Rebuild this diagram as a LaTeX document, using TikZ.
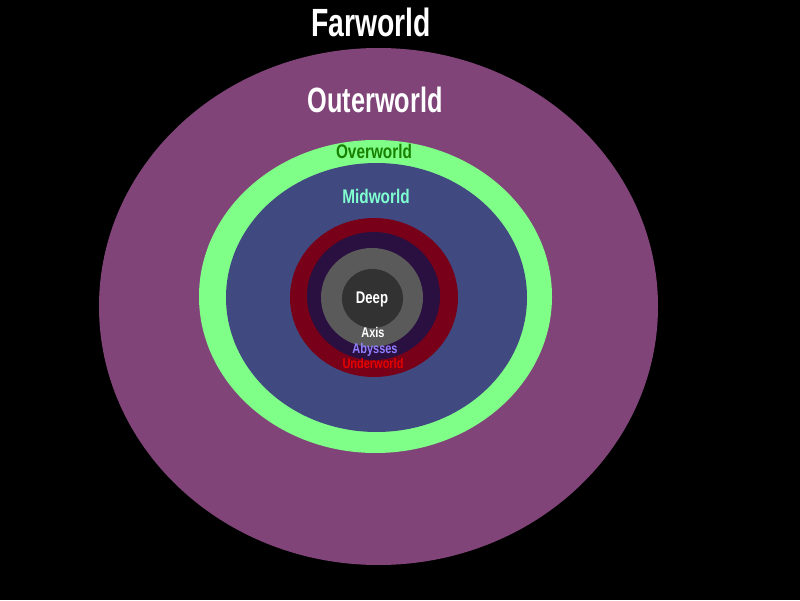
\documentclass[tikz,border=0pt]{standalone}
\usepackage{fontspec}
\setmainfont{Liberation Sans}[FakeStretch=0.78]
\newfontfamily\titlefont{Liberation Sans}[FakeStretch=0.72]
\definecolor{outerc}{RGB}{128,68,120}
\definecolor{overc}{RGB}{128,255,136}
\definecolor{midc}{RGB}{64,74,128}
\definecolor{underc}{RGB}{120,0,24}
\definecolor{abyssc}{RGB}{42,16,64}
\definecolor{axisc}{RGB}{90,90,90}
\definecolor{deepc}{RGB}{50,50,50}
\definecolor{overtxt}{RGB}{24,128,0}
\definecolor{midtxt}{RGB}{128,255,208}
\definecolor{abysstxt}{RGB}{144,128,255}
\definecolor{undertxt}{RGB}{230,0,0}
\tikzset{
  lbl/.style={font=\bfseries, inner sep=0pt},
}
\begin{document}
\begin{tikzpicture}
            \fill[black] (0,0) rectangle (20,15);
            \useasboundingbox (0,0) rectangle (20,15);

            % Rings, outside in
            \fill[outerc] (9.4625,7.3375) ellipse [x radius=6.9875cm, y radius=6.4625cm];
            \fill[overc] (9.3875,7.5875) ellipse [x radius=4.4125cm, y radius=3.9125cm];
            \fill[midc] (9.4125,7.5625) ellipse [x radius=3.7625cm, y radius=3.3625cm];
            \fill[underc] (9.35,7.5625) ellipse [x radius=2.1cm, y radius=1.9875cm];
            \fill[abyssc] (9.3375,7.6) ellipse [x radius=1.6625cm, y radius=1.6cm];
            \fill[axisc] (9.3,7.5625) ellipse [x radius=1.275cm, y radius=1.2375cm];
            \fill[deepc] (9.3125,7.5375) ellipse [x radius=0.7625cm, y radius=0.7375cm];

            % Names
            \node[lbl, white, font=\titlefont\bfseries\fontsize{28}{30}\selectfont] (far) at (9.275,14.45) {Farworld};
            \node[lbl, white, font=\titlefont\bfseries\fontsize{25}{27}\selectfont] (outer) at (9.375,12.5) {Outerworld};
            \node[lbl, overtxt, font=\bfseries\fontsize{14}{16}\selectfont] (over) at (9.35,11.225) {Overworld};
            \node[lbl, midtxt, font=\bfseries\fontsize{14}{16}\selectfont] (mid) at (9.4,10.1) {Midworld};
            \node[lbl, white, font=\bfseries\fontsize{12}{14}\selectfont] (deep) at (9.3,7.52) {Deep};
            \node[lbl, white, font=\bfseries\fontsize{10}{12}\selectfont] (axis) at (9.325,6.68) {Axis};
            \node[lbl, abysstxt, font=\bfseries\fontsize{10}{12}\selectfont] (abyss) at (9.375,6.26) {Abysses};
            \node[lbl, undertxt, font=\bfseries\fontsize{10}{12}\selectfont] (under) at (9.325,5.91) {Underworld};
\end{tikzpicture}
\end{document}
